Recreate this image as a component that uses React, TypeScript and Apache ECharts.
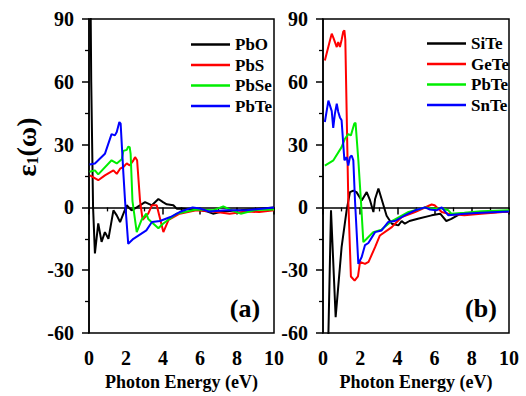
import React, { useEffect, useRef } from "react";
import * as echarts from "echarts";

// Panel (a): PbX compounds  [photon energy (eV), eps1]
const PbO: number[][] = [
  [0.03, 160], [0.12, 60], [0.22, 0], [0.32, -22], [0.5, -7.6], [0.68, -16.5], [0.86, -11.8],
  [1.05, -15], [1.32, -1.4], [1.5, -3.8], [1.68, -7], [1.86, -3], [2.04, 1], [2.3, -1.4],
  [2.58, 0], [3.03, 2.5], [3.4, 1], [3.75, 4], [4.0, 2.5], [4.2, 1.5], [4.56, 1], [4.74, -0.6],
  [5.0, -0.5], [5.5, -1], [6.0, -1.2], [6.4, -2], [6.7, -3], [7.2, -2], [8.2, -1.4], [9.0, -0.8], [10, 0],
];
const PbS: number[][] = [
  [0.05, 15.3], [0.5, 13], [0.86, 15.3], [1.32, 17.7], [1.5, 16], [1.68, 18.5], [1.86, 19.3],
  [2.04, 21], [2.2, 20], [2.4, 22.5], [2.49, 24], [2.6, 22.5], [2.76, 3], [2.9, -6], [3.2, -3],
  [3.4, 1], [3.66, 1], [4.02, -11.8], [4.3, -6], [4.9, -3], [5.8, -1.4], [6.7, -2], [7.6, -3],
  [8.5, -2], [9.2, -2.2], [10, -1.4],
];
const PbSe: number[][] = [
  [0.03, 17], [0.32, 17.7], [0.5, 15.8], [1.22, 22.5], [1.5, 21], [1.77, 23], [1.86, 27],
  [2.04, 27.5], [2.12, 29], [2.2, 28.8], [2.25, 25.6], [2.35, 3], [2.58, -11.8], [2.84, -6],
  [3.1, -3], [3.2, -5.5], [3.75, -10], [4.0, -7.8], [4.74, -3], [5.8, -1], [6.7, -1.4],
  [7.26, 0.5], [7.6, -1], [8.2, -3], [9.0, -1.2], [10, -1],
];
const PbTeA: number[][] = [
  [0.03, 20.5], [0.32, 21], [0.86, 25.6], [1.22, 35], [1.4, 34.4], [1.5, 36], [1.64, 40.8],
  [1.71, 40], [1.86, 16], [1.95, 3], [2.12, -17.4], [2.4, -15], [3.1, -11], [3.4, -7],
  [3.84, -6.5], [4.4, -4.6], [4.9, -2.2], [5.6, 0], [6.0, -0.5], [6.5, -2], [7.4, -1.4],
  [8.5, -1.4], [10, 0],
];

// Panel (b): XTe compounds
const SiTe: number[][] = [
  [0.22, -90], [0.43, -1.4], [0.68, -52.4], [1.0, -19], [1.27, -1.4], [1.45, 7.3], [1.63, 8],
  [1.8, 7.3], [2.08, 3.3], [2.35, 7.3], [2.53, 3.3], [2.71, -2.2], [2.8, 4], [2.98, 9], [3.15, 4],
  [3.42, -4], [3.7, -7.8], [4.05, -8.6], [4.23, -6.5], [4.4, -7.8], [4.65, -6.5], [5.1, -5.4],
  [5.84, -3.8], [6.3, -3], [6.63, -6.5], [6.9, -5.5], [7.4, -3], [8.5, -2.5], [10, -2],
];
const GeTe: number[][] = [
  [0.1, 70.2], [0.38, 80], [0.47, 83], [0.56, 81], [0.74, 76.6], [0.82, 79], [0.91, 76.6],
  [1.0, 80], [1.09, 84], [1.15, 84.6], [1.2, 80], [1.36, 3.3], [1.5, -33], [1.7, -35],
  [1.88, -33], [1.99, -26], [2.26, -27], [2.45, -26], [2.8, -19], [3.06, -13.4], [3.7, -9.4],
  [4.23, -4.6], [4.95, -2.2], [5.84, 1.4], [6.0, 1], [6.38, -2.2], [6.74, -3], [7.6, -3.8],
  [8.5, -3], [10, -2],
];
const PbTeB: number[][] = [
  [0.1, 20], [0.56, 22.5], [1.0, 28.8], [1.18, 32.8], [1.36, 35], [1.5, 34.4], [1.68, 40],
  [1.75, 40.4], [1.9, 22.5], [2.04, 3], [2.17, -16.6], [2.35, -15], [2.7, -11.8], [3.15, -10.6],
  [3.7, -6.5], [4.6, -2.2], [5.5, 0], [5.8, -0.5], [6.4, -0.5], [6.74, -1.4], [6.9, -3],
  [7.6, -2.6], [8.5, -1.8], [10, -1.4],
];
const SnTe: number[][] = [
  [0.1, 40.8], [0.29, 51], [0.47, 46], [0.55, 38], [0.64, 44.8], [0.74, 49.5], [0.82, 45.6],
  [0.91, 43], [1.0, 41.6], [1.15, 22.5], [1.27, 24], [1.36, 20], [1.45, 24], [1.54, 24.8],
  [1.63, 22.5], [1.72, 3.3], [1.9, -27], [2.08, -23.7], [2.26, -18], [2.44, -17], [2.8, -11.8],
  [3.15, -11], [3.5, -7], [3.87, -6.5], [4.4, -3.8], [4.95, -1.4], [5.48, 0], [5.75, -1],
  [6.1, -1.4], [6.38, 0], [6.74, -3.8], [7.6, -3], [8.5, -2.5], [10, -2],
];

const namesA = ["PbO", "PbS", "PbSe", "PbTe"];
const namesB = ["SiTe", "GeTe", "PbTe", "SnTe"];
const colors = ["#000000", "#ff0000", "#00ee00", "#0000ff"];
const xTicks = { min: 0, max: 10, interval: 2 };
const yTicks = { min: -60, max: 90, interval: 30 };

const FONT = "'Liberation Serif', 'Times New Roman', serif";

export default function App() {
  const ref = useRef<HTMLDivElement>(null);
  useEffect(() => {
    if (!ref.current) return;
    const chart = echarts.init(ref.current, undefined, { renderer: "svg" });
    const grids = [
      { left: 89, top: 19, width: 185, height: 314 },
      { left: 323, top: 19, width: 186, height: 314 },
    ];
    const mkX = (i: number) => ({
      type: "value",
      gridIndex: i,
      ...xTicks,
      name: "Photon Energy (eV)",
      nameLocation: "middle",
      nameGap: 35,
      nameTextStyle: { fontFamily: FONT, fontWeight: "bold", fontSize: 18, color: "#000" },
      axisLine: { show: true, lineStyle: { color: "#000", width: 1.5 } },
      axisTick: { show: true, inside: false, length: 7, lineStyle: { color: "#000", width: 1.5 } },
      minorTick: { show: true, splitNumber: 2, length: 4, lineStyle: { color: "#000", width: 1.3 } },
      axisLabel: { fontFamily: FONT, fontWeight: "bold", fontSize: 20, color: "#000", margin: 15 },
      splitLine: { show: false },
    });
    const mkY = (i: number) => ({
      type: "value",
      gridIndex: i,
      ...yTicks,
      axisLine: { show: true, lineStyle: { color: "#000", width: 1.5 } },
      axisTick: { show: true, inside: false, length: 7, lineStyle: { color: "#000", width: 1.5 } },
      minorTick: { show: true, splitNumber: 2, length: 4, lineStyle: { color: "#000", width: 1.3 } },
      axisLabel: { fontFamily: FONT, fontWeight: "bold", fontSize: 20, color: "#000", margin: 15 },
      splitLine: { show: false },
    });
    const dataA = [PbO, PbS, PbSe, PbTeA];
    const dataB = [SiTe, GeTe, PbTeB, SnTe];
    const mkSeries = (names: string[], data: number[][][], idx: number) =>
      names.map((n, k) => ({
        type: "line",
        name: n,
        xAxisIndex: idx,
        yAxisIndex: idx,
        data: data[k],
        symbol: "none",
        clip: true,
        lineStyle: { color: colors[k], width: 2 },
        itemStyle: { color: colors[k] },
      }));
    const mkLegend = (names: string[], left: number, top: number) => ({
      data: names.map((n, k) => ({
        name: n,
        icon: "rect",
        itemStyle: { color: colors[k] },
        lineStyle: { color: colors[k] },
      })),
      orient: "vertical",
      left,
      top,
      itemWidth: 39,
      itemHeight: 2.5,
      itemGap: 3.5,
      selectedMode: false,
      textStyle: { fontFamily: FONT, fontWeight: "bold", fontSize: 17, color: "#000" },
    });
    chart.setOption({
      animation: false,
      grid: grids.map((g) => ({ ...g, show: true, borderColor: "#000", borderWidth: 1.5, backgroundColor: "transparent" })),
      xAxis: [mkX(0), mkX(1)],
      yAxis: [mkY(0), mkY(1)],
      legend: [mkLegend(namesA, 186, 31), mkLegend(namesB, 422, 30)],
      series: [...mkSeries(namesA, dataA, 0), ...mkSeries(namesB, dataB, 1)],
      graphic: [
        {
          type: "text",
          x: 26,
          y: 147,
          rotation: Math.PI / 2,
          style: {
            text: "{a|ε}{b|1}{a|(ω)}",
            align: "center",
            verticalAlign: "middle",
            rich: {
              a: { fontFamily: FONT, fontWeight: "bold", fontSize: 28, fill: "#000" },
              b: { fontFamily: FONT, fontWeight: "bold", fontSize: 16, fill: "#000", padding: [12, 0, 0, 0] },
            },
          },
        },
        {
          type: "text",
          x: 245,
          y: 308,
          style: { text: "(a)", align: "center", verticalAlign: "middle", fontFamily: FONT, fontWeight: "bold", fontSize: 26, fill: "#000" },
        },
        {
          type: "text",
          x: 481,
          y: 308,
          style: { text: "(b)", align: "center", verticalAlign: "middle", fontFamily: FONT, fontWeight: "bold", fontSize: 26, fill: "#000" },
        },
      ],
    });
    return () => chart.dispose();
  }, []);
  return (
    <div
      ref={ref}
      style={{ position: "fixed", left: 0, top: 0, width: 526, height: 396, background: "#fff" }}
    />
  );
}
